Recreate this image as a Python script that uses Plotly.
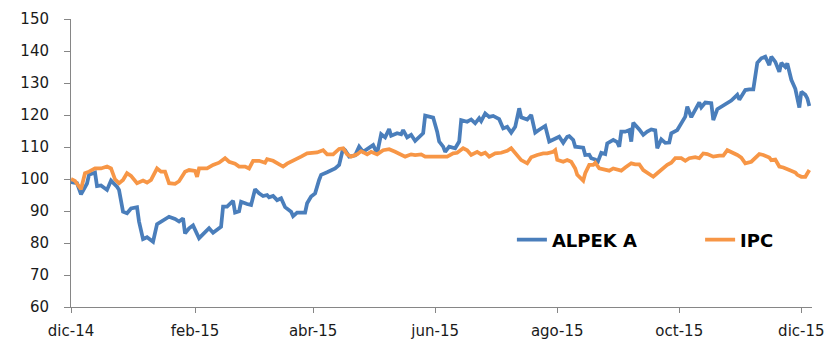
import plotly.graph_objects as go

alpek_dates = [
    "2014-12-01", "2014-12-04", "2014-12-06", "2014-12-09", "2014-12-10", "2014-12-13", "2014-12-14",
    "2014-12-16", "2014-12-19", "2014-12-21", "2014-12-24", "2014-12-25", "2014-12-27", "2014-12-29",
    "2014-12-31", "2015-01-03", "2015-01-04", "2015-01-06", "2015-01-08", "2015-01-10", "2015-01-11",
    "2015-01-13", "2015-01-16", "2015-01-19", "2015-01-22", "2015-01-24", "2015-01-26", "2015-01-27",
    "2015-01-29", "2015-01-31", "2015-02-03", "2015-02-05", "2015-02-08", "2015-02-10", "2015-02-12",
    "2015-02-14", "2015-02-15", "2015-02-17", "2015-02-20", "2015-02-21", "2015-02-23", "2015-02-24",
    "2015-02-27", "2015-03-01", "2015-03-03", "2015-03-05", "2015-03-07", "2015-03-09", "2015-03-10",
    "2015-03-12", "2015-03-14", "2015-03-16", "2015-03-18", "2015-03-21", "2015-03-22", "2015-03-24",
    "2015-03-28", "2015-03-29", "2015-03-31", "2015-04-02", "2015-04-04", "2015-04-05", "2015-04-08",
    "2015-04-10", "2015-04-12", "2015-04-14", "2015-04-16", "2015-04-17", "2015-04-19", "2015-04-22",
    "2015-04-24", "2015-04-26", "2015-04-28", "2015-05-01", "2015-05-03", "2015-05-05", "2015-05-07",
    "2015-05-09", "2015-05-10", "2015-05-13", "2015-05-15", "2015-05-16", "2015-05-18", "2015-05-20",
    "2015-05-22", "2015-05-24", "2015-05-26", "2015-05-27", "2015-05-30", "2015-05-31", "2015-06-02",
    "2015-06-03", "2015-06-05", "2015-06-06", "2015-06-08", "2015-06-11", "2015-06-13", "2015-06-14",
    "2015-06-17", "2015-06-19", "2015-06-21", "2015-06-23", "2015-06-24", "2015-06-26", "2015-06-28",
    "2015-06-30", "2015-07-03", "2015-07-05", "2015-07-07", "2015-07-09", "2015-07-11", "2015-07-13",
    "2015-07-14", "2015-07-17", "2015-07-19", "2015-07-21", "2015-07-23", "2015-07-26", "2015-07-28",
    "2015-07-31", "2015-08-02", "2015-08-04", "2015-08-06", "2015-08-07", "2015-08-09", "2015-08-10",
    "2015-08-14", "2015-08-15", "2015-08-17", "2015-08-18", "2015-08-20", "2015-08-21", "2015-08-23",
    "2015-08-25", "2015-08-26", "2015-08-29", "2015-08-31", "2015-09-01", "2015-09-02", "2015-09-04",
    "2015-09-06", "2015-09-07", "2015-09-08", "2015-09-11", "2015-09-13", "2015-09-15", "2015-09-17",
    "2015-09-19", "2015-09-20", "2015-09-22", "2015-09-24", "2015-09-26", "2015-09-27", "2015-09-30",
    "2015-10-02", "2015-10-04", "2015-10-05", "2015-10-07", "2015-10-08", "2015-10-11", "2015-10-12",
    "2015-10-14", "2015-10-17", "2015-10-18", "2015-10-20", "2015-10-22", "2015-10-25", "2015-10-27",
    "2015-10-30", "2015-10-31", "2015-11-02", "2015-11-03", "2015-11-05", "2015-11-07", "2015-11-09",
    "2015-11-11", "2015-11-13", "2015-11-15", "2015-11-16", "2015-11-18", "2015-11-20", "2015-11-21",
    "2015-11-23", "2015-11-24", "2015-11-26", "2015-11-28", "2015-11-30", "2015-12-01", "2015-12-03",
    "2015-12-04", "2015-12-05",
]
alpek_values = [
    99, 98.7, 95.2, 98.6, 101.3, 102, 97.8,
    98, 96.6, 99.5, 97.6, 96.6, 89.8, 89.3,
    90.8, 91.2, 86.7, 81.2, 81.8, 81, 80.4,
    85.9, 87.2, 88.2, 87.5, 86.7, 87.7, 83.0,
    84.6, 85.5, 81.5, 82.8, 84.6, 83.2, 84,
    85.1, 91.4, 91.4, 93.2, 89.5, 89.9, 92.9,
    92.2, 91.9, 96.8, 95.5, 94.7, 95, 94.3,
    94.7, 93.4, 94, 91.2, 89.8, 88.4, 89.5,
    89.5, 92.4, 94.5, 95.5, 99.7, 101.3, 102.1,
    102.6, 103.3, 104.4, 109.6, 109, 107, 107.4,
    110.1, 108.5, 109.3, 110.6, 108, 114, 113,
    115.6, 113.5, 114.3, 114, 115.3, 113, 113.8,
    111.9, 113.2, 114.3, 119.8, 119.5, 119.2, 114.8,
    111.7, 110.1, 108.5, 110.1, 109.6, 111.7, 118.4,
    117.9, 118.6, 117.4, 119, 118.1, 120.5, 119.4,
    119.7, 118.7, 115.8, 116.3, 114.5, 116.3, 122.1,
    119.3, 118.6, 120, 114.5, 115.4, 116.6, 111.7,
    112.5, 113.2, 111.3, 113.2, 113.4, 112.2, 110.1,
    109.8, 107.5, 107.6, 106.5, 106.1, 104.9, 108.2,
    107.8, 111.1, 112.2, 111.5, 110.1, 114.8, 114.8,
    115.3, 111.7, 117.6, 115.5, 113.8, 114.8, 115.5,
    115.2, 109.6, 112.4, 111.3, 111.4, 114.3, 115.3,
    117.4, 119.5, 122.6, 119.3, 120.5, 123.9, 122.4,
    123.9, 123.7, 118.4, 121.8, 122.5, 123.7, 124.5,
    126.3, 124.8, 126.8, 127.8, 128, 128, 136.3,
    137.7, 138.2, 135.6, 138.2, 136.6, 133.5, 136.3,
    135, 136.1, 131, 128.2, 122.3, 127.3, 126.3,
    125.2, 122.8,
]

ipc_dates = [
    "2014-12-01", "2014-12-03", "2014-12-06", "2014-12-08", "2014-12-10", "2014-12-13", "2014-12-16",
    "2014-12-19", "2014-12-21", "2014-12-23", "2014-12-25", "2014-12-27", "2014-12-29", "2014-12-31",
    "2015-01-03", "2015-01-06", "2015-01-08", "2015-01-10", "2015-01-13", "2015-01-15", "2015-01-17",
    "2015-01-19", "2015-01-22", "2015-01-24", "2015-01-27", "2015-01-29", "2015-02-01", "2015-02-02",
    "2015-02-03", "2015-02-07", "2015-02-10", "2015-02-13", "2015-02-16", "2015-02-18", "2015-02-21",
    "2015-02-23", "2015-02-26", "2015-02-28", "2015-03-02", "2015-03-05", "2015-03-08", "2015-03-09",
    "2015-03-12", "2015-03-14", "2015-03-17", "2015-03-19", "2015-03-21", "2015-03-24", "2015-03-26",
    "2015-03-29", "2015-04-01", "2015-04-03", "2015-04-06", "2015-04-08", "2015-04-11", "2015-04-14",
    "2015-04-16", "2015-04-18", "2015-04-20", "2015-04-23", "2015-04-25", "2015-04-28", "2015-04-30",
    "2015-05-03", "2015-05-06", "2015-05-09", "2015-05-12", "2015-05-15", "2015-05-17", "2015-05-20",
    "2015-05-22", "2015-05-25", "2015-05-27", "2015-05-30", "2015-06-03", "2015-06-05", "2015-06-07",
    "2015-06-10", "2015-06-12", "2015-06-15", "2015-06-17", "2015-06-19", "2015-06-22", "2015-06-24",
    "2015-06-26", "2015-06-28", "2015-07-01", "2015-07-04", "2015-07-07", "2015-07-09", "2015-07-11",
    "2015-07-14", "2015-07-17", "2015-07-19", "2015-07-22", "2015-07-25", "2015-07-27", "2015-07-30",
    "2015-07-31", "2015-08-01", "2015-08-04", "2015-08-06", "2015-08-08", "2015-08-10", "2015-08-11",
    "2015-08-14", "2015-08-15", "2015-08-17", "2015-08-19", "2015-08-20", "2015-08-22", "2015-08-25",
    "2015-08-27", "2015-08-29", "2015-08-31", "2015-09-02", "2015-09-04", "2015-09-07", "2015-09-09",
    "2015-09-11", "2015-09-13", "2015-09-16", "2015-09-18", "2015-09-20", "2015-09-22", "2015-09-25",
    "2015-09-27", "2015-09-29", "2015-10-02", "2015-10-04", "2015-10-06", "2015-10-09", "2015-10-11",
    "2015-10-13", "2015-10-15", "2015-10-18", "2015-10-21", "2015-10-23", "2015-10-25", "2015-10-27",
    "2015-10-30", "2015-11-01", "2015-11-03", "2015-11-06", "2015-11-08", "2015-11-10", "2015-11-12",
    "2015-11-15", "2015-11-16", "2015-11-18", "2015-11-20", "2015-11-22", "2015-11-25", "2015-11-28",
    "2015-11-29", "2015-12-01", "2015-12-03", "2015-12-05",
]
ipc_values = [
    100, 99.4, 96.8, 101.8, 102.3, 103.3, 103.3,
    103.9, 103.3, 99.9, 98.7, 99.7, 101.8, 101,
    98.7, 99.5, 98.9, 99.7, 103.3, 102.3, 102.3,
    98.7, 98.5, 99.3, 102.3, 102.8, 102.5, 100.7,
    103.3, 103.3, 104.4, 105.1, 106.5, 105.4, 104.8,
    103.9, 103.9, 103.3, 105.7, 105.7, 105.1, 106.2,
    105.7, 105.1, 103.9, 104.8, 105.4, 106.1, 107,
    108, 108.2, 108.3, 109, 107.7, 107.7, 109.4,
    109.6, 107.7, 107, 107.7, 108.7, 107.7, 108.5,
    107.7, 109, 109.3, 108.5, 107.7, 107, 107.7,
    107.5, 107.7, 107, 107, 107, 106.8, 107,
    108, 108.2, 109.6, 109, 107.5, 108.5, 107.7,
    108.2, 107, 108, 108.2, 108.8, 109.6, 108,
    105.9, 104.9, 106.8, 107.5, 108, 108, 108.5,
    109, 106, 105.4, 105.9, 105.4, 103.3, 101.3,
    99.5, 101.8, 104.4, 104.4, 105.1, 103.3, 102.8,
    102.6, 103.3, 102.8, 102.6, 103.6, 104.9, 104.6,
    104.6, 102.8, 101.6, 100.7, 101.8, 103, 104.4,
    105.1, 106.5, 106.5, 105.7, 106.5, 106.8, 106.5,
    108, 107.8, 107, 107.3, 107.3, 109, 108.5,
    107.5, 106.7, 104.9, 105.4, 106.8, 107.8, 107.5,
    106.7, 105.9, 106.1, 103.9, 103.6, 102.8, 102,
    101.3, 100.7, 100.7, 102.8,
]

tick_dates = ["2014-12-01", "2015-02-01", "2015-04-01", "2015-06-01",
              "2015-08-01", "2015-10-01", "2015-12-01"]
tick_labels = ["dic-14", "feb-15", "abr-15", "jun-15", "ago-15", "oct-15", "dic-15"]
y_ticks = [60, 70, 80, 90, 100, 110, 120, 130, 140, 150]

BLUE = "#4A7EBB"
ORANGE = "#F79646"
AXIS = "#868686"
FONT = "DejaVu Sans, Verdana, sans-serif"

fig = go.Figure()
fig.add_trace(go.Scatter(x=alpek_dates, y=alpek_values, mode="lines", name="ALPEK A",
                         line=dict(color=BLUE, width=3.75), legend="legend"))
fig.add_trace(go.Scatter(x=ipc_dates, y=ipc_values, mode="lines", name="IPC",
                         line=dict(color=ORANGE, width=3.75), legend="legend2"))

legend_common = dict(orientation="h", yanchor="middle", xanchor="left",
                     font=dict(family=FONT, size=18, color="#000000", weight="bold"),
                     bgcolor="rgba(0,0,0,0)", borderwidth=0)

# page body has an 8px default margin; figure is sized so it fits the window
fig.update_layout(
    width=829, height=348,
    margin=dict(l=63, r=25, t=11, b=49, autoexpand=False),
    paper_bgcolor="white", plot_bgcolor="white",
    font=dict(family=FONT, size=15, color="#1a1a1a"),
    showlegend=True,
    legend=dict(x=0.595, y=0.233, **legend_common),
    legend2=dict(x=0.849, y=0.233, **legend_common),
)
fig.update_xaxes(
    type="date", range=["2014-12-01", "2015-12-06 08:00"],
    tickvals=tick_dates, ticktext=tick_labels,
    showgrid=False, zeroline=False,
    showline=True, linecolor=AXIS, linewidth=1,
    ticks="outside", ticklen=5, tickcolor=AXIS,
    tickfont=dict(family=FONT, size=15, color="#1a1a1a"),
    ticklabelstandoff=5,
)
fig.update_yaxes(
    range=[60, 150], tickvals=y_ticks,
    showgrid=False, zeroline=False,
    showline=True, linecolor=AXIS, linewidth=1,
    ticks="outside", ticklen=6, tickcolor=AXIS,
    tickfont=dict(family=FONT, size=15, color="#1a1a1a"),
    ticklabelstandoff=12,
)

fig.write_html("out.html")
